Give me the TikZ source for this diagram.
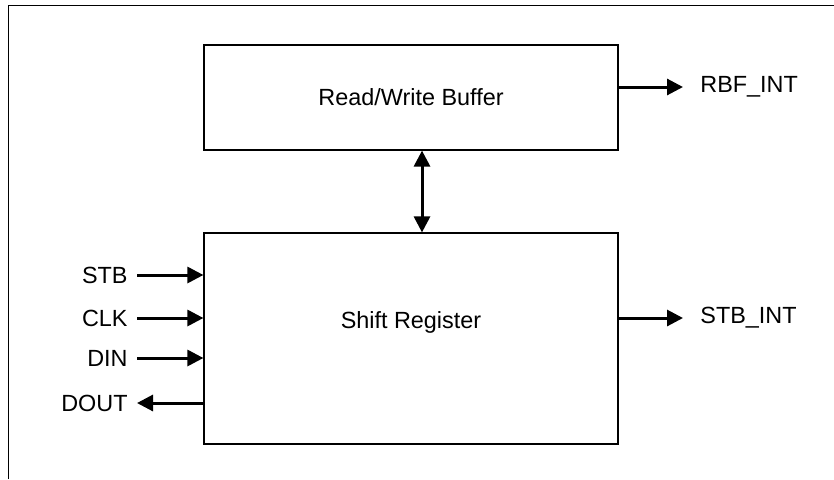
\documentclass[tikz,border=0pt]{standalone}
\usepackage{fontspec}
\setmainfont{Liberation Sans}
\usetikzlibrary{arrows.meta}

\begin{document}
\begin{tikzpicture}[x=0.5pt,y=0.5pt,font=\fontsize{11.7}{13}\selectfont,
    blk/.style={draw,line width=0.6pt,minimum width=207pt},
    sig/.style={line width=1.5pt,>={Triangle[length=8pt,width=8pt]}},
    pinl/.style={anchor=east,inner xsep=4.5pt},
    pinr/.style={anchor=west,inner xsep=8.5pt}]
        \useasboundingbox (0,0) rectangle (834,479);
        \draw[line width=0.5pt] (8,0) -- (8,474) -- (834,474);
        % blocks
        \node[blk,minimum height=52.5pt] (rwbuf) at (411,381.5) {Read/Write Buffer};
        \node[blk,minimum height=105.5pt] (shreg) at (411,140.5) {};
        \node (shtext) at (411,157) {Shift Register};
        % pins
        \node[pinl] (stb) at (137,204) {STB};
        \node[pinl] (clk) at (137,161) {CLK};
        \node[pinl] (din) at (137,121) {DIN};
        \node[pinl] (dout) at (137,76) {DOUT};
        \node[pinr] (rbfint) at (683,392) {RBF\_INT};
        \node[pinr] (stbint) at (683,161) {STB\_INT};
        \draw[sig,->] (stb.east) -- (stb.east -| shreg.west);
        \draw[sig,->] (clk.east) -- (clk.east -| shreg.west);
        \draw[sig,->] (din.east) -- (din.east -| shreg.west);
        \draw[sig,->] (dout.east -| shreg.west) -- (dout.east);
        \draw[sig,->] (rbfint.west -| rwbuf.east) -- (rbfint.west);
        \draw[sig,->] (stbint.west -| shreg.east) -- (stbint.west);
        \draw[sig,<->] ([xshift=5.5pt]rwbuf.south) -- ([xshift=5.5pt]shreg.north);
    \end{tikzpicture}
\end{document}
